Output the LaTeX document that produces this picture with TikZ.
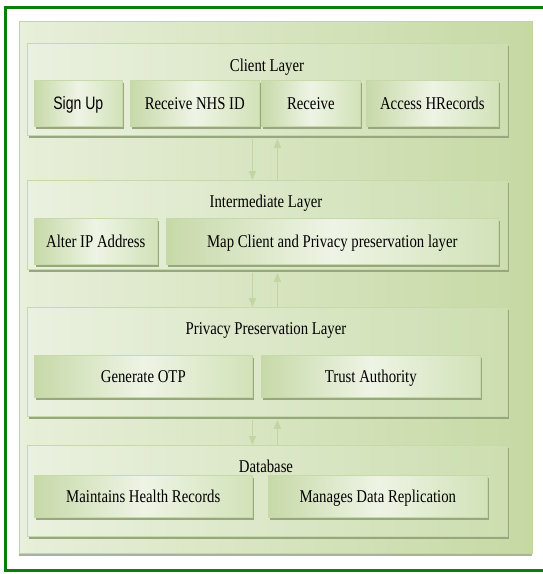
\documentclass[tikz,border=0pt]{standalone}
\usepackage{fontspec}
\setmainfont{Liberation Serif}[FakeStretch=0.82]
\newfontfamily\signfont{Liberation Sans}[FakeStretch=0.78]
\usetikzlibrary{arrows.meta, shadows}
\definecolor{frameGreen}{HTML}{0B7D0B}
\definecolor{panelLeft}{HTML}{E8EFDA}
\definecolor{panelRight}{HTML}{C6D9A4}
\definecolor{panelEdge}{HTML}{C2D6A2}
\definecolor{panelShadow}{HTML}{A9B39C}
\definecolor{layerLeft}{HTML}{EAF1DF}
\definecolor{layerRight}{HTML}{CDDEB0}
\definecolor{layerEdge}{HTML}{C6D9A8}
\definecolor{layerShadow}{HTML}{98A780}
\definecolor{boxDark}{HTML}{C7D9A8}
\definecolor{boxLight}{HTML}{EEF4E5}
\definecolor{boxRight}{HTML}{D2E2B8}
\definecolor{flowGreen}{HTML}{C2D5A4}

\begin{document}
\begin{tikzpicture}[
  x=1pt, y=-1pt,
  outerpanel/.style={rectangle, draw=panelEdge, line width=0.8pt, inner sep=0pt,
    left color=panelLeft, right color=panelRight,
    drop shadow={shadow xshift=0pt, shadow yshift=-3pt, fill=panelShadow, opacity=1}},
  layerbox/.style={rectangle, draw=layerEdge, line width=0.8pt, inner sep=0pt,
    left color=layerLeft, right color=layerRight,
    drop shadow={shadow xshift=1.5pt, shadow yshift=-3pt, fill=layerShadow, opacity=1}},
  itembox/.style={rectangle, draw=layerEdge, line width=0.6pt, inner sep=0pt,
    left color=boxDark, right color=boxRight, middle color=boxLight,
    font=\fontsize{18}{21}\selectfont, anchor=north west,
    text height=15pt, text depth=3pt,
    drop shadow={shadow xshift=1.5pt, shadow yshift=-3pt, fill=layerShadow, opacity=1}},
  layertitle/.style={font=\fontsize{18}{21}\selectfont, inner sep=1pt},
  flow/.style={draw=flowGreen, line width=1.1pt, -{Triangle[width=7pt, length=9pt]}}
]
  \useasboundingbox (0,0) rectangle (542,574);

  %% --- frame (right side runs off the page) ---
  \draw[frameGreen, line width=3pt] (548,7) -- (5.5,7) -- (5.5,570.5) -- (548,570.5);

  %% --- background panel ---
  \node[outerpanel, minimum width=513pt, minimum height=532pt, anchor=north west]
    (panel) at (19,21) {};

  %% --- layers: name / top / height ---
  \foreach \nm/\yy/\hh in {client/43/92, inter/180/89, privacy/307/109, db/445/91} {
    \node[layerbox, minimum width=480pt, minimum height=\hh pt, anchor=north west]
      (\nm) at (27,\yy) {};
  }

  \node[layertitle] (clienttitle)  at (267,67)  {Client Layer};
  \node[layertitle] (intertitle)   at (266,203) {Intermediate Layer};
  \node[layertitle] (privacytitle) at (266,330) {Privacy Preservation Layer};

  %% --- boxes: name / left / top / width / height / text ---
  \foreach \nm/\xx/\yy/\ww/\hh/\txt in {
    signup/34/80/88/46/{\signfont Sign Up},
    nhsid/130/80/129/46/Receive NHS ID,
    receive/261/80/99/46/Receive,
    hrecords/366/80/132/46/Access HRecords,
    alterip/34/218/123/46/Alter IP Address,
    mapclient/166/218/332/46/Map Client and Privacy preservation layer,
    genotp/34/355/218/42/Generate OTP,
    trust/261/355/219/42/Trust Authority,
    healthrec/34/475/218/42/Maintains Health Records,
    replication/268/475/219/42/Manages Data Replication
  } {
    \node[itembox, minimum width=\ww pt, minimum height=\hh pt] (\nm) at (\xx,\yy) {\txt};
  }

  %% drawn after the boxes: it overlaps the top edge of the first one
  \node[layertitle] (dbtitle) at (266,466) {Database};

  %% --- two-way links between layers ---
  \foreach \a/\b in {client/inter, inter/privacy, privacy/db} {
    \draw[flow] ([xshift=-15pt,yshift=-3pt]\a.south) -- ([xshift=-15pt]\b.north);
    \draw[flow] ([xshift=10pt]\b.north) -- ([xshift=10pt,yshift=-3pt]\a.south);
  }
\end{tikzpicture}
\end{document}
